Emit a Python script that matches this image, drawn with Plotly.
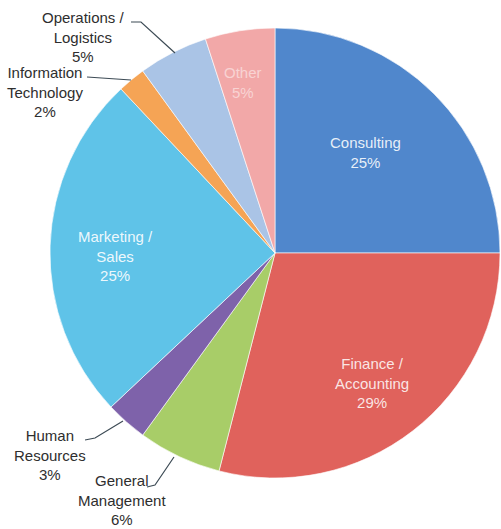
import plotly.graph_objects as go

W, H = 501, 529

categories = ["Consulting", "Finance / Accounting", "General Management", "Human Resources",
              "Marketing / Sales", "Information Technology", "Operations / Logistics", "Other"]
display_labels = ["Consulting", "Finance /<br>Accounting", "General<br>Management", "Human<br>Resources",
                  "Marketing /<br>Sales", "Information<br>Technology", "Operations /<br>Logistics", "Other"]
values = [25, 29, 6, 3, 25, 2, 5, 5]
colors = ["#5087cc", "#e0625c", "#a8cd68", "#7e62aa", "#5fc3e8", "#f5a455", "#aac4e6", "#f2a8a8"]

# label placement (pixel coords) and style
label_pos = [(365, 152), (372, 383), (122, 500), (50, 455), (115, 256), (45, 92), (83, 37), (243, 82)]
label_color = ["rgba(255,255,255,0.88)", "rgba(255,255,255,0.85)", "#2e2e2e", "#2e2e2e",
               "rgba(255,255,255,0.9)", "#2e2e2e", "#2e2e2e", "rgba(255,255,255,0.5)"]

leaders = {
    2: [(147, 487), (155, 485), (174, 457)],
    3: [(85, 440), (95, 438), (123, 421)],
    5: [(87, 77), (131, 80)],
    6: [(131, 22), (141, 22), (175, 53)],
}

def px(x, y):
    return x / W, 1 - y / H

fig = go.Figure(go.Pie(
    labels=categories, values=values, sort=False, direction="clockwise", rotation=0,
    marker=dict(colors=colors, line=dict(color="rgba(255,255,255,0.6)", width=1)),
    textinfo="none", hoverinfo="label+percent", showlegend=False,
    domain=dict(x=[50 / W, 500 / W], y=[1 - 478 / H, 1 - 28 / H]),
))

annotations = []
for i, (lab, v) in enumerate(zip(display_labels, values)):
    x, y = px(*label_pos[i])
    annotations.append(dict(
        x=x, y=y, xref="paper", yref="paper", showarrow=False,
        xanchor="center", yanchor="middle",
        text=f"{lab}<br>{v}%", align="center",
        font=dict(family="Liberation Sans, Arial", size=15, color=label_color[i]),
    ))

shapes = []
for i, pts in leaders.items():
    path = "M " + " L ".join(f"{px(a, b)[0]},{px(a, b)[1]}" for a, b in pts)
    shapes.append(dict(type="path", xref="paper", yref="paper", path=path,
                       line=dict(color="#3d4b55", width=1.2)))

fig.update_layout(
    width=W, height=H, margin=dict(l=0, r=0, t=0, b=0),
    paper_bgcolor="white", plot_bgcolor="white",
    annotations=annotations, shapes=shapes,
)

fig.write_html("out.html", config={"displayModeBar": False},
               post_script="document.body.style.margin='0';")
